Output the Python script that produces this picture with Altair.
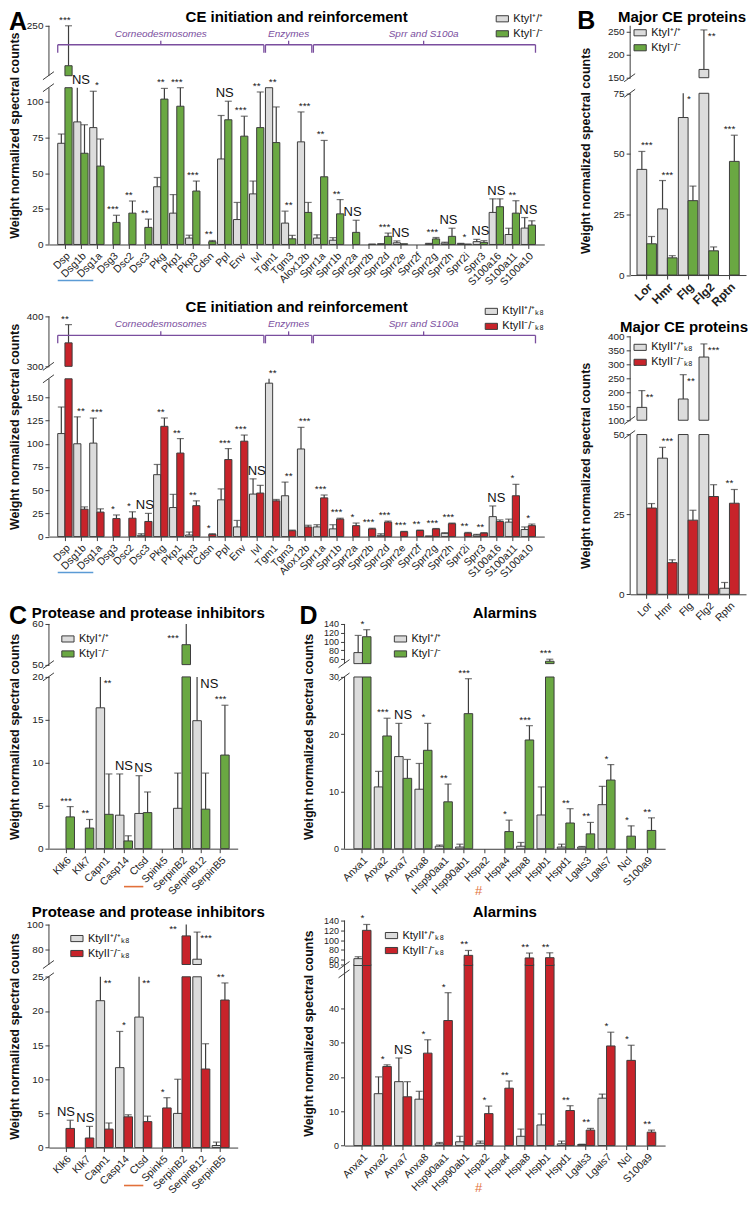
import altair as alt
import pandas as pd

FONT = "Liberation Sans"
EDGE = "#3d3d3d"
GRAY_FILL = "#dcdcdc"
GREEN_FILL = "#6aa842"
RED_FILL = "#c8232a"
PURPLE = "#7a4e9e"
BLUE = "#5b9bd5"
ORANGE = "#e2703a"

Y_TITLE = "Weight normalized spectral counts"
geno_I = ["KtyI⁺/⁺", "KtyI⁻/⁻"]
geno_II = ["KtyII⁺/⁺ₖ₈", "KtyII⁻/⁻ₖ₈"]

# ---------------- Panel A: CE initiation and reinforcement ----------------
ce_genes = ["Dsp", "Dsg1b", "Dsg1a", "Dsg3", "Dsc2", "Dsc3", "Pkg", "Pkp1", "Pkp3", "Cdsn",
            "Ppl", "Env", "Ivl", "Tgm1", "Tgm3", "Alox12b", "Sprr1a", "Sprr1b", "Sprr2a", "Sprr2b",
            "Sprr2d", "Sprr2e", "Sprr2f", "Sprr2g", "Sprr2h", "Sprr2i", "Sprr3", "S100a16", "S100a11", "S100a10"]
ceI_wt = [71, 86, 82, 0, 0, 0, 40.5, 22, 4.5, 0, 60, 17.5, 35.5, 110, 15, 72, 4.5, 3, 0, 0,
          0.3, 1.2, 0, 0.5, 1, 0.5, 2, 22.5, 7, 11.5]
ceI_wt_sd = [6.5, 30, 25.5, 0, 0, 0, 6.5, 13, 2, 0, 30.5, 12, 9, 0, 8.4, 21, 2.3, 1.8, 0, 0,
             0.3, 1.3, 0, 0.3, 0.6, 0.3, 1.6, 9.5, 4.4, 7.4]
ceI_ko = [170, 64, 55, 15.5, 22, 12, 102, 97, 37.5, 2, 87.5, 76, 82, 71.5, 4, 22.5, 47.5, 21.5, 8.5, 0.3,
          5.7, 0.5, 0, 3.9, 5.7, 0.3, 1.5, 26.5, 22, 13.6]
ceI_ko_sd = [80, 20, 19, 5, 8.5, 5.8, 7.5, 13, 7, 0.8, 13, 14, 25, 25, 2.4, 7, 25.5, 10, 8.5, 0,
             2.3, 0, 0, 1, 5.7, 0, 1.2, 5.5, 8.7, 3]
ceI_sig = ["***", "NS", "*", "***", "**", "**", "**", "***", "***", "**", "NS", "***", "**", "**", "**",
           "***", "**", "**", "NS", "", "***", "NS", "", "***", "NS", "*", "NS", "NS", "**", "NS"]

ceII_wt = [111, 100, 100.7, 0, 0, 1.4, 66.7, 31.3, 1.7, 0, 39.6, 10.4, 45.8, 165.3, 44, 94.4, 10.4, 8.3, 0, 0,
           1.4, 0, 0, 0.7, 3.5, 0, 1.7, 21.5, 15.6, 7.6]
ceII_wt_sd = [28.6, 29, 27, 0, 0, 1.7, 11, 14.2, 3.2, 0, 11.8, 7, 16.4, 6, 14.7, 23.3, 2.4, 4.5, 0, 0,
              1.7, 0, 0, 0, 0.7, 0, 0.7, 11.5, 3.2, 2.8]
ceII_ko = [347, 29.5, 26.4, 19.4, 19.8, 16.3, 118.8, 90, 33.3, 2.4, 83, 102.8, 46.9, 38.5, 6.3, 10.4, 41.7,
           18.8, 11.8, 8.3, 15.6, 5.2, 6.6, 8.3, 13.9, 3.8, 3.8, 16.3, 44, 11.8]
ceII_ko_sd = [36.5, 2.5, 3.5, 3.9, 6.9, 8.7, 9, 15.6, 5.2, 0.7, 11.8, 6.6, 8.3, 1.5, 0.7, 1.8, 3.1, 1, 2.8,
              0.7, 1.1, 0.4, 0.4, 0.4, 0.7, 0.7, 0.4, 1.7, 12.3, 1.7]
ceII_sig = ["**", "**", "***", "*", "*", "NS", "**", "**", "**", "*", "***", "***", "NS", "**", "**", "***",
            "***", "***", "*", "***", "***", "***", "**", "***", "***", "**", "**", "NS", "*", "*"]

ce_groups = ["Corneodesmosomes", "Enzymes", "Sprr and S100a"]
ce_group_first = ["Dsp", "Tgm1", "Sprr1a"]
ce_group_last = ["Ivl", "Alox12b", "S100a10"]

# ---------------- Panel B: Major CE proteins ----------------
major_genes = ["Lor", "Hmr", "Flg", "Flg2", "Rptn"]
majI_wt = [43.6, 27.3, 65, 168, 0]
majI_wt_sd = [7.4, 11.7, 15, 86, 0]
majI_ko = [12.9, 7.1, 30.7, 10, 46.9]
majI_ko_sd = [3, 0.9, 6, 1.6, 10.8]
majI_sig = ["***", "***", "*", "**", "***"]
majII_wt = [146, 42.6, 176, 326, 1.9]
majII_wt_sd = [60, 3.4, 87, 47, 1.8]
majII_ko = [27, 9.9, 23.2, 30.6, 28.5]
majII_ko_sd = [1.4, 0.9, 3.1, 3.7, 4.3]
majII_sig = ["**", "***", "**", "***", "**"]

# ---------------- Panel C: Protease and protease inhibitors ----------------
prot_genes = ["Klk6", "Klk7", "Capn1", "Casp14", "Ctsd", "Spink5", "SerpinB2", "SerpinB12", "SerpinB5"]
protI_wt = [0, 0, 16.4, 3.9, 4.1, 0, 4.7, 14.9, 0]
protI_wt_sd = [0, 0, 6, 4.8, 4.4, 0, 4.1, 6, 0]
protI_ko = [3.7, 2.4, 4.0, 0.9, 4.2, 0, 54.9, 4.6, 10.9]
protI_ko_sd = [1.2, 1.0, 4.7, 0.6, 2.4, 0, 8, 4.2, 5.8]
protI_sig = ["***", "**", "**", "NS", "NS", "", "***", "NS", "***"]
protII_wt = [0, 0, 21.5, 11.7, 19.1, 0, 5.0, 71.9, 0.3]
protII_wt_sd = [0, 0, 5, 5.3, 7, 0, 5.0, 22, 0.5]
protII_ko = [2.8, 1.4, 2.7, 4.5, 3.8, 5.8, 90.8, 11.5, 21.6]
protII_ko_sd = [1.2, 1.7, 0.9, 0.3, 0.8, 1.5, 12, 3.7, 2.5]
protII_sig = ["NS", "NS", "**", "*", "**", "*", "**", "***", "**"]

# ---------------- Panel D: Alarmins ----------------
alarm_genes = ["Anxa1", "Anxa2", "Anxa7", "Anxa8", "Hsp90aa1", "Hsp90ab1", "Hspa2", "Hspa4", "Hspa8",
               "Hspb1", "Hspd1", "Lgals3", "Lgals7", "Ncl", "S100a9"]
alI_wt = [75, 10.8, 16.1, 10.4, 0.45, 0.3, 0, 0, 0.45, 5.9, 0.3, 0.3, 7.7, 0, 0]
alI_wt_sd = [39, 2.7, 5.8, 4.5, 0.2, 0.5, 0, 0, 0.65, 4.9, 0.5, 0.1, 3.2, 0, 0]
alI_ko = [111, 19.7, 12.3, 17.2, 8.2, 23.6, 0, 3.0, 19.0, 55.4, 4.5, 2.6, 12.0, 2.2, 3.2]
alI_ko_sd = [16, 3.1, 3.3, 4.7, 3.1, 6.1, 0, 2.0, 2.5, 4.6, 2.5, 2.0, 2.7, 1.8, 2.2]
alI_sig = ["*", "***", "NS", "*", "**", "***", "", "*", "***", "***", "**", "**", "*", "*", "**"]
alII_wt = [62, 15.1, 18.6, 13.5, 0.5, 1.1, 0.7, 0, 2.7, 6.0, 0.5, 0.3, 13.8, 0, 0]
alII_wt_sd = [4, 4.9, 6.9, 2.3, 0.4, 1.6, 0.6, 0, 2.1, 3.2, 0.8, 0.1, 1.2, 0, 0]
alII_ko = [120, 23.0, 14.2, 26.9, 36.4, 68.8, 9.3, 16.7, 63.5, 64, 10.2, 4.5, 29.0, 24.8, 3.9]
alII_ko_sd = [12, 0.5, 4.4, 3.9, 8.1, 10, 2.2, 2.1, 10, 10, 1.4, 0.5, 4.0, 4.4, 0.6]
alII_sig = ["*", "*", "NS", "*", "*", "**", "*", "**", "**", "**", "**", "**", "*", "*", "**"]

ONE = pd.DataFrame({"k": [0]})


def make_panel(genes, wt, wt_sd, ko, ko_sd, sig, geno, fills, width, pin, pout,
               low_top, low_ticks, low_h, up_dom, up_ticks, up_h, gap, title,
               title_anchor="middle", title_dx=0, title_dy=-4, top_pad=0, letter=None,
               letter_pos=(-40, -16), legend_pos=(0, 0), ytitle_x=-27, ylabel_size=10,
               bold_labels=False, brackets=None, underline=None, hash_gene=None,
               side_gap=False, side_up=False):
    up_bot, up_top = up_dom
    H = top_pad + up_h + gap + low_h
    ys = alt.Scale(domain=[0, low_top, up_bot, up_top],
                   range=[H, top_pad + up_h + gap, top_pad + up_h, top_pad], nice=False, zero=False)
    yax = alt.Axis(values=list(low_ticks) + list(up_ticks), domain=False, grid=False, tickSize=4,
                   labelPadding=2, labelOverlap=False, labelFontSize=ylabel_size, title=Y_TITLE,
                   titleX=ytitle_x, titleY=top_pad + (up_h + gap + low_h) / 2, titleAngle=-90,
                   titleAlign="center", titleBaseline="bottom", titleFontSize=12.5,
                   titleFontWeight="bold")
    xs = alt.Scale(domain=list(genes), paddingInner=pin, paddingOuter=pout)
    xax = alt.Axis(title=None, labelAngle=-45, labelAlign="right", labelBaseline="top",
                   labelOverlap=False, labelPadding=2, tickSize=4,
                   labelFontSize=12 if bold_labels else 10.5,
                   labelFontWeight="bold" if bold_labels else "normal")
    X = alt.X("gene:N", scale=xs, axis=xax)
    XO = alt.XOffset("geno:N", scale=alt.Scale(domain=list(geno), paddingInner=0, paddingOuter=0))

    def Y(f):
        return alt.Y(f, scale=ys, axis=yax, stack=None)

    rows = []
    for g, v, s in zip(genes, wt, wt_sd):
        rows.append({"gene": g, "geno": geno[0], "v": v, "sd": s})
    for g, v, s in zip(genes, ko, ko_sd):
        rows.append({"gene": g, "geno": geno[1], "v": v, "sd": s})
    df = pd.DataFrame(rows)
    df["hi"] = df["v"] + df["sd"]

    color = alt.Color("geno:N", scale=alt.Scale(domain=list(geno), range=list(fills)),
                      legend=alt.Legend(orient="none", legendX=legend_pos[0],
                                        legendY=top_pad + legend_pos[1], title=None))
    base = alt.Chart(df)
    bar_kw = dict(stroke=EDGE, strokeWidth=1)
    err_kw = dict(color=EDGE, strokeWidth=1.2)
    layers = [
        base.transform_filter("datum.v > 0")
            .transform_calculate(vc=f"min(datum.v, {low_top})")
            .mark_bar(**bar_kw)
            .encode(x=X, xOffset=XO, y=Y("vc:Q"), y2=alt.datum(0), color=color),
        base.transform_filter(f"datum.v > {up_bot}")
            .mark_bar(**bar_kw)
            .encode(x=X, xOffset=XO, y=Y("v:Q"), y2=alt.datum(up_bot), color=color),
        base.transform_filter(f"datum.sd > 0 && datum.v < {low_top}")
            .transform_calculate(h1=f"min(datum.hi, {low_top})")
            .mark_rule(**err_kw)
            .encode(x=X, xOffset=XO, y=Y("v:Q"), y2="h1:Q"),
        base.transform_filter(f"datum.sd > 0 && datum.hi > {up_bot}")
            .transform_calculate(a=f"max(datum.v, {up_bot})", b=f"min(datum.hi, {up_top})")
            .mark_rule(**err_kw)
            .encode(x=X, xOffset=XO, y=Y("a:Q"), y2="b:Q"),
        base.transform_filter(f"datum.sd > 0 && (datum.hi <= {low_top} || "
                              f"(datum.hi >= {up_bot} && datum.hi <= {up_top}))")
            .mark_tick(color=EDGE, thickness=1.2, size=7)
            .encode(x=X, xOffset=XO, y=Y("hi:Q")),
    ]

    # significance labels
    srows = []
    for g, w, ws, k, ks, s in zip(genes, wt, wt_sd, ko, ko_sd, sig):
        if not s:
            continue
        top = max(w + ws, k + ks)
        pos = "c"
        if top <= low_top:
            y = top
        elif top < up_bot:
            y = low_top
            if side_gap:
                pos = "s"
        elif top <= up_top:
            y = top
            if side_up:
                pos = "s"
        else:
            y = max(w, k)
            pos = "k"
        srows.append({"gene": g, "sig": s, "y": y, "pos": pos})
    sdf = pd.DataFrame(srows)
    size_enc = alt.condition("datum.sig == 'NS'", alt.value(13), alt.value(10))
    layers.append(alt.Chart(sdf).transform_filter("datum.pos == 'c'")
                  .mark_text(baseline="bottom", dy=-1, color="#111")
                  .encode(x=X, y=Y("y:Q"), text="sig:N", size=size_enc))
    layers.append(alt.Chart(sdf).transform_filter("datum.pos == 'k'")
                  .mark_text(baseline="bottom", dy=-2, dx=-9, color="#111")
                  .encode(x=X, y=Y("y:Q"), text="sig:N", size=size_enc))
    layers.append(alt.Chart(sdf).transform_filter("datum.pos == 's'")
                  .mark_text(baseline="top", align="left", dy=1, dx=-1, color="#111")
                  .encode(x=X, y=Y("y:Q"), text="sig:N", size=size_enc))

    # broken y-axis domain lines and break marks
    layers.append(alt.Chart(ONE).mark_rule(color=EDGE, strokeWidth=1)
                  .encode(x=alt.value(0), y=alt.YDatum(0, scale=ys, axis=yax), y2=alt.datum(low_top)))
    layers.append(alt.Chart(ONE).mark_rule(color=EDGE, strokeWidth=1)
                  .encode(x=alt.value(0), y=alt.YDatum(up_bot, scale=ys, axis=yax), y2=alt.datum(up_top)))
    yb = top_pad + up_h
    for yy in (yb, yb + gap):
        layers.append(alt.Chart(ONE).mark_rule(color=EDGE, strokeWidth=1)
                      .encode(x=alt.value(-6), x2=alt.value(5), y=alt.value(yy + 4), y2=alt.value(yy - 4)))

    # panel title and letter
    tx = (width / 2 if title_anchor == "middle" else width) + title_dx
    talign = "center" if title_anchor == "middle" else "right"
    layers.append(alt.Chart(pd.DataFrame({"t": [title]}))
                  .mark_text(fontSize=15, fontWeight="bold", align=talign, baseline="alphabetic", color="#000")
                  .encode(x=alt.value(tx), y=alt.value(top_pad + title_dy), text="t:N"))
    if letter:
        layers.append(alt.Chart(pd.DataFrame({"t": [letter]}))
                      .mark_text(fontSize=25, fontWeight="bold", align="left", baseline="top", color="#000")
                      .encode(x=alt.value(letter_pos[0]), y=alt.value(top_pad + letter_pos[1]), text="t:N"))

    if brackets is not None:
        names, firsts, lasts = brackets
        for name, f, l in zip(names, firsts, lasts):
            i0, i1 = genes.index(f), genes.index(l)
            m = (i0 + i1) / 2
            mi = int(m)
            bp = min(1.0, 0.5 + (m - mi) / (1 - pin))
            bdf = pd.DataFrame([{"f": f, "l": l, "m": genes[mi], "name": name}])
            bb = alt.Chart(bdf)
            pk = dict(color=PURPLE, strokeWidth=1.3)
            layers += [
                bb.mark_rule(**pk).encode(x=alt.X("f:N", scale=xs, axis=xax, bandPosition=0),
                                          x2=alt.X2("l:N", bandPosition=1), y=alt.value(top_pad + 19)),
                bb.mark_rule(**pk).encode(x=alt.X("f:N", scale=xs, axis=xax, bandPosition=0),
                                          y=alt.value(top_pad + 19), y2=alt.value(top_pad + 27)),
                bb.mark_rule(**pk).encode(x=alt.X("l:N", scale=xs, axis=xax, bandPosition=1),
                                          y=alt.value(top_pad + 19), y2=alt.value(top_pad + 27)),
                bb.mark_rule(**pk).encode(x=alt.X("m:N", scale=xs, axis=xax, bandPosition=bp),
                                          y=alt.value(top_pad + 15), y2=alt.value(top_pad + 19)),
                bb.mark_text(color=PURPLE, fontSize=10, fontStyle="italic", baseline="middle")
                  .encode(x=alt.X("m:N", scale=xs, axis=xax, bandPosition=bp),
                          y=alt.value(top_pad + 8), text="name:N"),
            ]

    if underline is not None:
        f, bp0, l, bp1, col, dy = underline
        udf = pd.DataFrame([{"f": f, "l": l}])
        layers.append(alt.Chart(udf).mark_rule(color=col, strokeWidth=1.6)
                      .encode(x=alt.X("f:N", scale=xs, axis=xax, bandPosition=bp0),
                              x2=alt.X2("l:N", bandPosition=bp1), y=alt.value(H + dy)))

    if hash_gene is not None:
        layers.append(alt.Chart(pd.DataFrame({"g": [hash_gene]}))
                      .mark_text(text="#", fontSize=13, color=ORANGE, dx=-6, baseline="middle")
                      .encode(x=alt.X("g:N", scale=xs, axis=xax), y=alt.value(H + 42)))

    return alt.layer(*layers).properties(width=width, height=H)


IND = dict(x="independent", y="independent", color="independent", xOffset="independent")

A1 = make_panel(ce_genes, ceI_wt, ceI_wt_sd, ceI_ko, ceI_ko_sd, ceI_sig, geno_I, [GRAY_FILL, GREEN_FILL],
                496, 0.1, 0.55, 110, [0, 25, 50, 75, 100], 157, (150, 250), [250], 50, 12,
                "CE initiation and reinforcement", letter="A", legend_pos=(447, -14),
                brackets=(ce_groups, ce_group_first, ce_group_last),
                underline=("Dsp", 0.0, "Dsg1a", 0.25, BLUE, 36))
B1 = make_panel(major_genes, majI_wt, majI_wt_sd, majI_ko, majI_ko_sd, majI_sig, geno_I,
                [GRAY_FILL, GREEN_FILL], 116, 0.06, 0.33, 75, [0, 25, 50, 75], 182, (150, 263),
                [150, 200, 250], 52, 15.6, "Major CE proteins", title_anchor="end", letter="B",
                letter_pos=(-53, -17), legend_pos=(3, 0), ytitle_x=-38, bold_labels=True,
                side_gap=True, side_up=True)
A2 = make_panel(ce_genes, ceII_wt, ceII_wt_sd, ceII_ko, ceII_ko_sd, ceII_sig, geno_II, [GRAY_FILL, RED_FILL],
                496, 0.1, 0.55, 170, [0, 25, 50, 75, 100, 125, 150], 158, (300, 400), [300, 400], 50, 12.5,
                "CE initiation and reinforcement", legend_pos=(436, -12),
                brackets=(ce_groups, ce_group_first, ce_group_last),
                underline=("Dsp", 0.0, "Dsg1a", 0.25, BLUE, 36))
B2 = make_panel(major_genes, majII_wt, majII_wt_sd, majII_ko, majII_ko_sd, majII_sig, geno_II,
                [GRAY_FILL, RED_FILL], 116, 0.06, 0.33, 50, [0, 25, 50], 160, (100, 400),
                [100, 150, 200, 250, 300, 350, 400], 84, 14.3, "Major CE proteins", title_anchor="end",
                title_dx=2, top_pad=20, legend_pos=(3, 4), ytitle_x=-38, side_gap=True, side_up=True)
C1 = make_panel(prot_genes, protI_wt, protI_wt_sd, protI_ko, protI_ko_sd, protI_sig, geno_I,
                [GRAY_FILL, GREEN_FILL], 189, 0.12, 0.44, 20, [0, 5, 10, 15, 20], 172, (50, 60), [50, 60],
                40.7, 12.3, "Protease and protease inhibitors", title_dx=5, title_dy=-6, letter="C",
                letter_pos=(-40, -20), legend_pos=(12, 8),
                underline=("Casp14", 0.5, "Ctsd", 0.5, ORANGE, 38), side_gap=True, side_up=True)
D1 = make_panel(alarm_genes, alI_wt, alI_wt_sd, alI_ko, alI_ko_sd, alI_sig, geno_I, [GRAY_FILL, GREEN_FILL],
                321, 0.16, 0.46, 30, [0, 10, 20, 30], 172, (50, 140), [60, 80, 100, 120, 140], 39.7, 13.4,
                "Alarmins", title_dy=-6, letter="D", letter_pos=(-45, -20), legend_pos=(49, 8), ytitle_x=-29,
                ylabel_size=9, hash_gene="Hspa2")
C2 = make_panel(prot_genes, protII_wt, protII_wt_sd, protII_ko, protII_ko_sd, protII_sig, geno_II,
                [GRAY_FILL, RED_FILL], 189, 0.12, 0.44, 25, [0, 5, 10, 15, 20, 25], 171, (67.6, 100), [80, 100],
                40, 12.3, "Protease and protease inhibitors", title_dx=5, title_dy=-8, top_pad=4,
                legend_pos=(21, 7), underline=("Casp14", 0.5, "Ctsd", 0.5, ORANGE, 38),
                side_gap=True, side_up=True)
D2 = make_panel(alarm_genes, alII_wt, alII_wt_sd, alII_ko, alII_ko_sd, alII_sig, geno_II, [GRAY_FILL, RED_FILL],
                321, 0.16, 0.46, 50, [0, 10, 20, 30, 40, 50], 172, (48, 140), [60, 80, 100, 120, 140], 45, 8.3,
                "Alarmins", title_dy=-4, legend_pos=(40, 8), ytitle_x=-29, ylabel_size=9, hash_gene="Hspa2")

row1 = alt.hconcat(A1, B1, spacing=86, bounds="flush").resolve_scale(**IND)
row2 = alt.hconcat(A2, B2, spacing=86, bounds="flush").resolve_scale(**IND)
row3 = alt.hconcat(C1, D1, spacing=107, bounds="flush").resolve_scale(**IND)
row4 = alt.hconcat(C2, D2, spacing=107, bounds="flush").resolve_scale(**IND)
top = alt.vconcat(row1, row2, spacing=-8).resolve_scale(**IND)
bottom = alt.vconcat(row3, row4, spacing=6).resolve_scale(**IND)

chart = (alt.vconcat(top, bottom, spacing=-30).resolve_scale(**IND)
         .properties(padding={"left": 0, "top": 0, "right": 0, "bottom": 0})
         .configure(font=FONT)
         .configure_view(stroke=None)
         .configure_axis(labelFont=FONT, labelColor="#222", domainColor=EDGE, tickColor=EDGE,
                         titleFont=FONT, titleColor="#111", grid=False)
         .configure_legend(labelFont=FONT, labelFontSize=11, labelColor="#111",
                           symbolType="M-1,-0.5L1,-0.5L1,0.5L-1,0.5Z", symbolSize=150,
                           symbolStrokeColor=EDGE, symbolStrokeWidth=1, rowPadding=2,
                           labelOffset=4, padding=0))

chart.save("out.html", embed_options={"renderer": "svg", "actions": False})
